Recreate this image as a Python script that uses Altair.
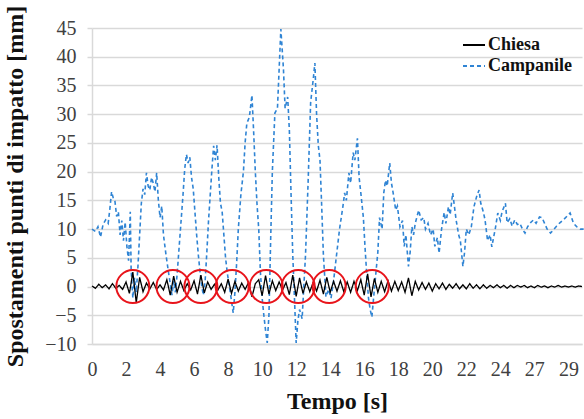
import altair as alt
import pandas as pd

# ---- data ----
series_names = ["Chiesa", "Campanile"]

chiesa_t = [
    0.0, 0.2, 0.4, 0.6, 0.8, 1.0, 1.2, 1.4, 1.6, 1.8,
    2.0, 2.2, 2.4, 2.6, 2.8, 3.0, 3.2, 3.4, 3.6, 3.8,
    4.0, 4.2, 4.4, 4.6, 4.8, 5.0, 5.2, 5.4, 5.6, 5.8,
    6.0, 6.2, 6.4, 6.6, 6.8, 7.0, 7.2, 7.4, 7.6, 7.8,
    8.0, 8.2, 8.4, 8.6, 8.8, 9.0, 9.2, 9.4, 9.6, 9.8,
    10.0, 10.2, 10.4, 10.6, 10.8, 11.0, 11.2, 11.4, 11.6, 11.8,
    12.0, 12.2, 12.4, 12.6, 12.8, 13.0, 13.2, 13.4, 13.6, 13.8,
    14.0, 14.2, 14.4, 14.6, 14.8, 15.0, 15.2, 15.4, 15.6, 15.8,
    16.0, 16.2, 16.4, 16.6, 16.8, 17.0, 17.2, 17.4, 17.6, 17.8,
    18.0, 18.2, 18.4, 18.6, 18.8, 19.0, 19.2, 19.4, 19.6, 19.8,
    20.0, 20.2, 20.4, 20.6, 20.8, 21.0, 21.2, 21.4, 21.6, 21.8,
    22.0, 22.2, 22.4, 22.6, 22.8, 23.0, 23.2, 23.4, 23.6, 23.8,
    24.0, 24.2, 24.4, 24.6, 24.8, 25.0, 25.2, 25.4, 25.6, 25.8,
    26.0, 26.2, 26.4, 26.6, 26.8, 27.0, 27.2, 27.4, 27.6, 27.8,
    28.0, 28.2, 28.4, 28.6, 28.8,
]
chiesa_v = [
    0.1, -0.3, 0.4, -0.2, 0.3, -0.4, 0.5, -0.3, 0.2,
    -0.5, 0.8, -1.2, 2.5, -2.8, 1.6, -0.9,
    0.6, -0.4, 0.7, -0.5, 0.3, -0.6,
    1.2, -1.5, 1.8, -1.0, 0.9,
    -0.7, 0.5, -0.6,
    1.0, -1.3, 2.0, -1.1, 0.8,
    -0.5, 0.4, -0.6, 0.5,
    -1.0, 1.3, -1.2, 0.9, -0.8,
    0.6, -0.5, 0.7, -1.8, 0.5,
    1.2, -1.6, 1.9, -1.3, 1.0,
    -0.7, 0.8, -0.6, 0.7,
    -1.4, 2.0, -1.7, 1.5, -1.2,
    0.8, -0.9, 0.7, -0.8,
    1.1, -1.3, 1.6, -1.0, 0.9,
    -0.8, 1.0, -0.9, 0.8, -1.0, 0.9, -0.7,
    1.2, -1.5, 2.2, -1.8, 1.4, -1.0, 0.9,
    -0.9, 1.0, -0.8, 0.9, -0.7, 0.8, -1.0, 1.5, -1.6, 0.9, -0.6, 0.7, -0.5, 0.6, -0.8,
    0.5, -0.4, 0.6, -0.5, 0.4, -0.3, 0.5, -0.4, 0.3, -0.4, 0.5, -0.3, 0.3, -0.4, 0.3,
    -0.3, 0.2, -0.2, 0.3, -0.2, 0.2, -0.3, 0.2, -0.2, 0.2, -0.1, 0.2, -0.2, 0.1, -0.2,
    0.2, -0.1, 0.1, -0.2, 0.1, -0.1, 0.2, -0.1, 0.1, -0.1, 0.1, -0.1, 0.1, 0.0,
]

campanile_t = [
    0.0, 0.2, 0.35, 0.5, 0.65, 0.8, 0.95, 1.05, 1.15, 1.25,
    1.35, 1.45, 1.55, 1.65, 1.75, 1.85, 1.95, 2.05, 2.15, 2.25,
    2.3, 2.4, 2.5, 2.6, 2.7, 2.8, 2.9, 3.0, 3.1, 3.2,
    3.3, 3.4, 3.5, 3.6, 3.7, 3.8, 3.9, 4.0, 4.1, 4.2,
    4.35, 4.5, 4.6, 4.7, 4.8, 4.9, 5.0, 5.1, 5.2, 5.35,
    5.45, 5.55, 5.65, 5.75, 5.85, 5.95, 6.05, 6.15, 6.25, 6.35,
    6.45, 6.55, 6.65, 6.75, 6.85, 6.95, 7.05, 7.15, 7.25, 7.35,
    7.45, 7.55, 7.65, 7.75, 7.85, 7.95, 8.05, 8.15, 8.3, 8.4,
    8.5, 8.6, 8.75, 8.9, 9.0, 9.1, 9.25, 9.4, 9.5, 9.6,
    9.7, 9.8, 9.9, 10.0, 10.1, 10.2, 10.3, 10.4, 10.5, 10.6,
    10.75, 10.9, 11.1, 11.25, 11.35, 11.5, 11.6, 11.7, 11.8, 11.9,
    12.0, 12.1, 12.2, 12.35, 12.45, 12.55, 12.7, 12.85, 13.0, 13.1,
    13.2, 13.3, 13.4, 13.5, 13.6, 13.75, 13.9, 14.05, 14.2, 14.35,
    14.55, 14.75, 14.85, 14.95, 15.1, 15.2, 15.35, 15.45, 15.6, 15.7,
    15.8, 15.95, 16.05, 16.15, 16.25, 16.35, 16.45, 16.55, 16.65, 16.8,
    16.9, 17.05, 17.15, 17.25, 17.35, 17.5, 17.6, 17.7, 17.85, 17.95,
    18.1, 18.25, 18.35, 18.45, 18.6, 18.7, 18.8, 18.9, 19.0, 19.2,
    19.35, 19.5, 19.6, 19.75, 19.9, 20.05, 20.15, 20.3, 20.4, 20.55,
    20.7, 20.8, 20.95, 21.05, 21.2, 21.3, 21.4, 21.55, 21.65, 21.8,
    21.9, 22.0, 22.15, 22.3, 22.45, 22.6, 22.75, 22.85, 23.0, 23.1,
    23.25, 23.4, 23.5, 23.6, 23.7, 23.85, 24.0, 24.1, 24.3, 24.4,
    24.55, 24.7, 24.85, 25.0, 25.15, 25.3, 25.45, 25.6, 25.8, 25.95,
    26.1, 26.3, 26.45, 26.6, 26.75, 26.95, 27.1, 27.3, 27.5, 27.7,
    27.9, 28.1, 28.3, 28.5, 28.7, 28.9,
]
campanile_v = [
    10.0, 9.6, 10.4, 8.6, 10.8, 11.6, 11.0, 13.5, 16.5, 15.4,
    14.8, 12.2, 13.0, 9.0, 11.5, 8.0, 11.2, 7.0, 4.5, 13.0,
    3.0, -2.0, 1.5, -1.0, 3.5, 9.0, 14.5, 17.0, 16.0, 19.8,
    17.5, 16.8, 19.0, 18.0, 16.5, 19.8, 15.0, 12.0, 14.0, 9.0,
    5.5, 2.4, 0.5, -1.5, 1.0, -1.0, 2.0, 6.0, 10.0, 16.0,
    20.5, 23.0, 21.5, 22.5, 19.0, 17.0, 13.0, 9.0, 5.5, 2.5,
    0.0, -1.5, 1.0, 6.0, 11.5, 16.0, 20.5, 24.5, 22.0, 24.6,
    19.0, 14.5, 13.0, 9.0, 5.0, 2.4, 0.5, -1.5, -4.6, -1.0,
    4.0, 10.0, 16.0, 20.0, 25.0, 28.4, 29.5, 33.3, 27.0, 20.0,
    14.3, 10.0, 2.4, -2.0, -5.0, -7.6, -9.8, -5.0, 8.0, 20.0,
    30.2, 31.0, 44.8, 38.0, 31.0, 33.0, 27.2, 16.0, 5.5, -2.0,
    -9.8, -6.0, -4.0, -5.6, 0.0, 5.5, 18.0, 32.0, 36.0, 38.9,
    30.0, 24.6, 22.0, 14.0, 5.5, -1.8, -0.5, -2.0, 1.0, 4.9,
    10.0, 14.0, 16.3, 15.0, 19.8, 18.0, 23.3, 22.0, 25.8, 19.0,
    16.3, 12.0, 6.7, 2.0, -2.0, -4.0, -5.3, -2.0, 1.2, 6.0,
    12.0, 10.0, 16.3, 18.5, 17.5, 21.5, 18.0, 16.3, 13.3, 14.0,
    10.4, 11.5, 7.0, 9.0, 3.5, 6.0, 10.4, 9.0, 11.0, 13.3,
    11.6, 12.0, 10.0, 11.0, 9.0, 10.0, 7.0, 8.5, 5.8, 10.1,
    12.9, 11.0, 13.9, 12.5, 16.3, 14.0, 11.6, 9.0, 8.0, 3.5,
    6.0, 10.0, 9.0, 10.5, 13.9, 15.6, 16.8, 14.5, 13.0, 11.6,
    8.0, 9.0, 6.9, 8.5, 10.0, 12.8, 11.5, 13.0, 14.5, 11.1,
    11.8, 10.5, 11.6, 10.8, 11.0, 10.0, 9.3, 10.4, 11.2, 11.6,
    11.0, 12.1, 12.0, 11.0, 10.0, 9.3, 9.8, 10.5, 11.1, 11.6,
    12.2, 12.8, 11.0, 10.4, 10.0, 10.0,
]

circle_t = [2.4, 4.76, 6.4, 8.24, 10.24, 12.12, 13.94, 16.47]
circle_v = [0, 0, 0, 0, 0, 0, 0, 0]

tick_values = [0, 2, 4, 6, 8, 10, 12, 14, 16, 18, 20, 22, 24, 26, 28]
tick_labels = ["0", "2", "4", "6", "8", "10", "12", "14", "16", "18",
               "20", "22", "24", "27", "29"]
y_ticks = [-10, -5, 0, 5, 10, 15, 20, 25, 30, 35, 40, 45]

# ---- tables ----
df_chiesa = pd.DataFrame({"t": chiesa_t, "v": chiesa_v, "series": "Chiesa"})
df_camp = pd.DataFrame({"t": campanile_t, "v": campanile_v, "series": "Campanile"})
df_circ = pd.DataFrame({"t": circle_t, "v": circle_v})

FONT = "Liberation Serif"
BLUE = "#2f84d4"

label_expr = "[" + ",".join("'%s'" % s for s in tick_labels) + "][round(datum.value/2)]"

x_enc = alt.X("t:Q",
              scale=alt.Scale(domain=[0, 28.8], nice=False, zero=False),
              axis=alt.Axis(values=tick_values, labelExpr=label_expr, title="Tempo [s]",
                            grid=False, ticks=False, labelPadding=15,
                            labelOverlap=False, labelFlush=False,
                            labelFont=FONT, labelFontSize=20, labelColor="#404040",
                            titleFont=FONT, titleFontSize=24, titleFontWeight="bold",
                            titleColor="#111111",
                            titlePadding=10, domainColor="#d9d9d9", domainWidth=1.5))
y_enc = alt.Y("v:Q",
              scale=alt.Scale(domain=[-10, 45], nice=False),
              axis=alt.Axis(values=y_ticks, title="Spostamenti punti di impatto [mm]",
                            labelOverlap=False, labelFlush=False,
                            labelFont=FONT, labelFontSize=20, labelColor="#404040",
                            titleFont=FONT, titleFontSize=24, titleFontWeight="bold",
                            titleColor="#111111",
                            gridColor="#d9d9d9", gridWidth=1.5, tickColor="#d9d9d9",
                            tickSize=5, tickWidth=1.5, labelPadding=11, titlePadding=17,
                            domainColor="#d9d9d9", domainWidth=1.5))

color_scale = alt.Scale(domain=series_names, range=["#000000", BLUE])
dash_scale = alt.Scale(domain=series_names, range=[[1, 0], [4, 3]])
legend = alt.Legend(title=None, orient="none", legendX=370, legendY=5,
                    symbolType="stroke", symbolSize=484, symbolStrokeWidth=2,
                    labelFont=FONT, labelFontSize=18, labelFontWeight="bold",
                    labelColor="#111111", labelOffset=2, rowPadding=0)

camp = alt.Chart(df_camp).mark_line(strokeWidth=1.6).encode(
    x=x_enc, y=y_enc,
    color=alt.Color("series:N", scale=color_scale, legend=legend),
    strokeDash=alt.StrokeDash("series:N", scale=dash_scale, legend=legend),
)
chiesa = alt.Chart(df_chiesa).mark_line(strokeWidth=1.3).encode(
    x=x_enc, y=y_enc,
    color=alt.Color("series:N", scale=color_scale, legend=legend),
    strokeDash=alt.StrokeDash("series:N", scale=dash_scale, legend=legend),
)
circles = alt.Chart(df_circ).mark_point(shape="circle", filled=False, size=1090,
                                         color="#e8141b", strokeWidth=2, opacity=1).encode(
    x=x_enc, y=y_enc)

chart = alt.layer(camp, chiesa, circles).properties(
    width=490, height=316,
    autosize=alt.AutoSizeParams(type="none"),
    padding={"left": 92, "top": 28, "right": 2, "bottom": 75},
).configure_view(stroke=None)

chart.save("out.html", embed_options={"renderer": "svg", "actions": False})
